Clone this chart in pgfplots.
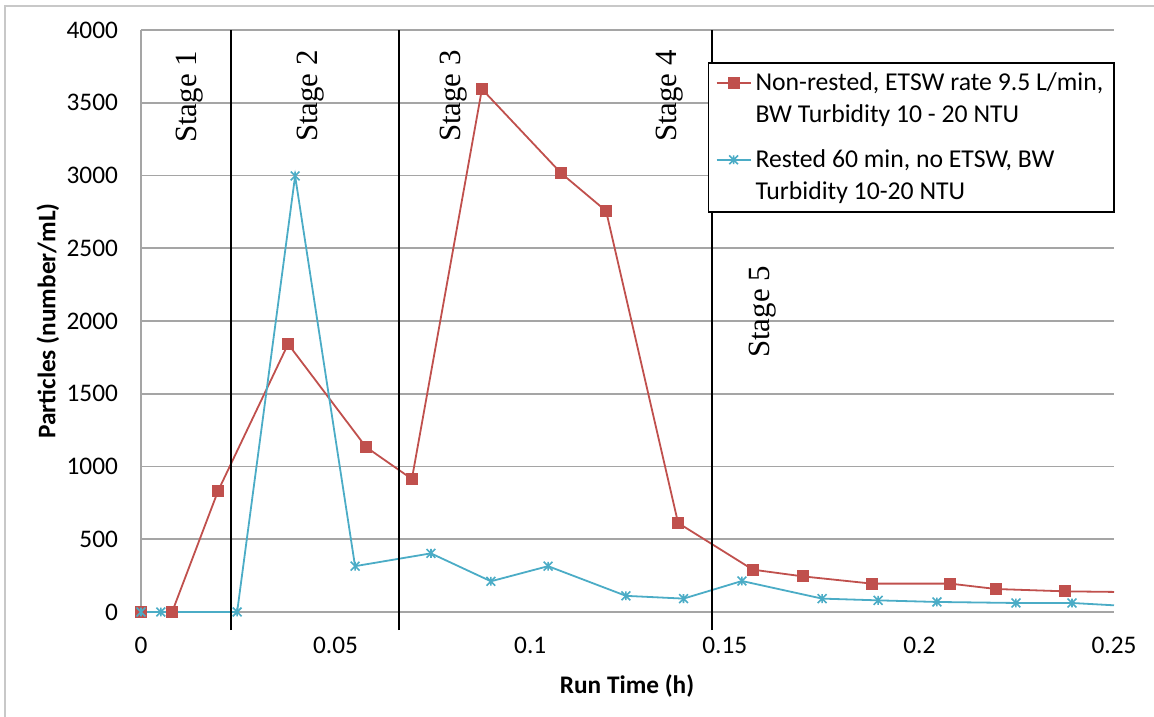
\documentclass[border=0pt]{standalone}
\usepackage{pgfplots}
\pgfplotsset{compat=1.18}
\usepackage{fontspec}
\setmainfont{Carlito}
\newfontfamily\stagefont{Liberation Serif}
\definecolor{exred}{RGB}{192,80,77}
\definecolor{exblue}{RGB}{75,172,198}
\definecolor{gridgray}{RGB}{165,165,165}
\definecolor{framegray}{RGB}{200,200,200}
\pgfdeclareplotmark{xstar}{%
  \pgfpathmoveto{\pgfqpoint{-\pgfplotmarksize}{-\pgfplotmarksize}}%
  \pgfpathlineto{\pgfqpoint{\pgfplotmarksize}{\pgfplotmarksize}}%
  \pgfpathmoveto{\pgfqpoint{-\pgfplotmarksize}{\pgfplotmarksize}}%
  \pgfpathlineto{\pgfqpoint{\pgfplotmarksize}{-\pgfplotmarksize}}%
  \pgfpathmoveto{\pgfqpoint{0pt}{-\pgfplotmarksize}}%
  \pgfpathlineto{\pgfqpoint{0pt}{\pgfplotmarksize}}%
  \pgfusepathqstroke}
\begin{document}
\begin{tikzpicture}
\path[use as bounding box] (-70.5bp,-52.5bp) rectangle (506.5bp,306bp);
\draw[framegray, line width=0.75bp] (-68bp,-53bp) -- (-68bp,303bp) -- (507bp,303bp);
\begin{axis}[
  at={(0,0)}, anchor=south west,
  scale only axis, width=486.5bp, height=291bp,
  xmin=0, xmax=0.25, ymin=0, ymax=4000,
  clip=false,
  axis x line*=bottom,
  x axis line style={draw=none},
  axis y line*=left,
  y axis line style={gridgray, line width=0.9bp, -},
  ymajorgrids, grid style={gridgray, line width=0.9bp},
  major tick length=0pt,
  xtick={0,0.05,0.1,0.15,0.2,0.25},
  xticklabels={0,0.05,0.1,0.15,0.2,0.25},
  ytick={0,500,1000,1500,2000,2500,3000,3500,4000},
  yticklabels={0,500,1000,1500,2000,2500,3000,3500,4000},
  ticklabel style={font=\fontsize{12.7}{15}\selectfont},
  yticklabel style={xshift=-8bp},
  xticklabel style={yshift=-8.8bp},
  xlabel={\bfseries Run Time (h)},
  ylabel={\bfseries Particles (number/mL)},
  label style={font=\fontsize{12.7}{15}\selectfont},
  xlabel style={at={(axis description cs:0.4995,-0.127)}, anchor=center},
  ylabel style={at={(axis description cs:-0.0956,0.5)}, anchor=center},
  legend style={at={(axis description cs:0.5827,0.945)}, anchor=north west,
    draw=black, line width=0.75bp, font=\fontsize{12.9}{16}\selectfont,
    cells={align=left, anchor=west}, row sep=8bp, inner xsep=3.5bp, inner ysep=3bp},
  legend image post style={yshift=8bp},
  legend cell align=left,
]
\addplot[exred, line width=0.9bp, mark=square*, mark size=2.6bp, mark options={solid}] coordinates {
(0,0) (0.008,0) (0.0198,832) (0.0378,1842) (0.0578,1134) (0.0696,914)
(0.0876,3594) (0.1079,3017) (0.1195,2756) (0.138,612) (0.1572,291)
(0.170,245) (0.1878,195) (0.2079,195) (0.2197,158) (0.2374,142)};
\addlegendentry{Non-rested, ETSW rate 9.5 L/min,\\BW Turbidity 10 - 20 NTU}
\addplot[exblue, line width=0.9bp, mark=xstar, mark size=2.2bp, mark options={solid, line width=0.8bp}] coordinates {
(0,0) (0.0051,0) (0.0247,0) (0.0396,2997) (0.055,315) (0.0745,403)
(0.0899,211) (0.1046,315) (0.1246,111) (0.1394,92) (0.1544,213)
(0.175,92) (0.1894,80) (0.2045,69) (0.2248,62) (0.2392,62)};
\addlegendentry{Rested 60 min, no ETSW, BW\\Turbidity 10-20 NTU}
\addplot[exred, line width=0.9bp, no marks, forget plot] coordinates {(0.2374,142) (0.25,138)};
\addplot[exblue, line width=0.9bp, no marks, forget plot] coordinates {(0.2392,62) (0.25,46)};
\addplot[black, line width=1bp, no marks, forget plot] coordinates {(0.0231,-124) (0.0231,4000)};
\addplot[black, line width=1bp, no marks, forget plot] coordinates {(0.0663,-124) (0.0663,4000)};
\addplot[black, line width=1bp, no marks, forget plot] coordinates {(0.1467,-124) (0.1467,4000)};
\node[rotate=90, font=\stagefont\fontsize{15.5}{18}\selectfont] at (axis cs:0.0126,3540) {Stage 1};
\node[rotate=90, font=\stagefont\fontsize{15.5}{18}\selectfont] at (axis cs:0.0437,3546) {Stage 2};
\node[rotate=90, font=\stagefont\fontsize{15.5}{18}\selectfont] at (axis cs:0.0804,3546) {Stage 3};
\node[rotate=90, font=\stagefont\fontsize{15.5}{18}\selectfont] at (axis cs:0.1357,3546) {Stage 4};
\node[rotate=90, font=\stagefont\fontsize{15.5}{18}\selectfont] at (axis cs:0.1598,2062) {Stage 5};
\end{axis}
\end{tikzpicture}
\end{document}
